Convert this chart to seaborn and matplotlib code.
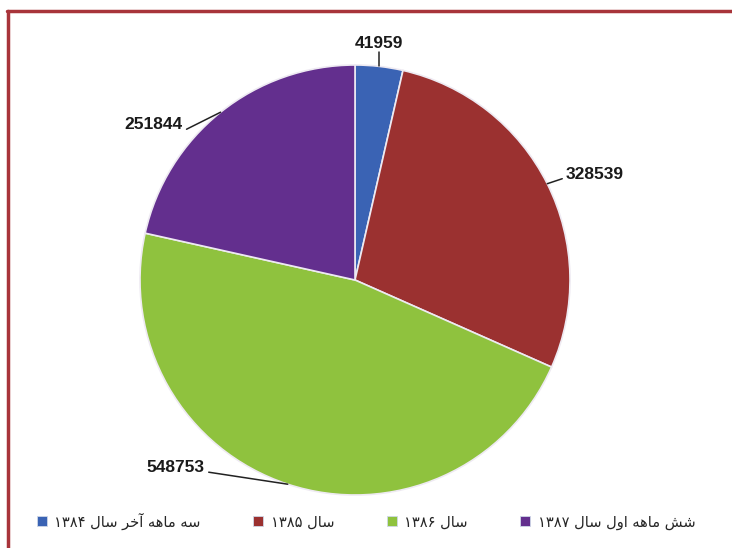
import numpy as np
import matplotlib
matplotlib.use("Agg")
import matplotlib.pyplot as plt
import seaborn as sns
from matplotlib.patches import Patch
from matplotlib.lines import Line2D

# ---- data ----
categories = ["سه ماهه آخر سال ۱۳۸۴", "سال ۱۳۸۵", "سال ۱۳۸۶", "شش ماهه اول سال ۱۳۸۷"]
values = [41959, 328539, 548753, 251844]
value_labels = ["41959", "328539", "548753", "251844"]
colors = ["#3A63B4", "#9B3130", "#8FC23E", "#632F8E"]

# ---- simple Arabic-script shaping for display (matplotlib has no bidi) ----
FORMS = {
    '\u0627': ('\uFE8D', '\uFE8E', None, None),
    '\u0622': ('\uFE81', '\uFE82', None, None),
    '\u0631': ('\uFEAD', '\uFEAE', None, None),
    '\u0648': ('\uFEED', '\uFEEE', None, None),
    '\u0633': ('\uFEB1', '\uFEB2', '\uFEB3', '\uFEB4'),
    '\u0634': ('\uFEB5', '\uFEB6', '\uFEB7', '\uFEB8'),
    '\u062E': ('\uFEA5', '\uFEA6', '\uFEA7', '\uFEA8'),
    '\u0644': ('\uFEDD', '\uFEDE', '\uFEDF', '\uFEE0'),
    '\u0645': ('\uFEE1', '\uFEE2', '\uFEE3', '\uFEE4'),
    '\u0647': ('\uFEE9', '\uFEEA', '\uFEEB', '\uFEEC'),
}


def dual(c):
    return c in FORMS and FORMS[c][2] is not None


def shape(s):
    out = []
    for i, c in enumerate(s):
        if c not in FORMS:
            out.append(c)
            continue
        prev = s[i - 1] if i > 0 else ''
        nxt = s[i + 1] if i + 1 < len(s) else ''
        jp = dual(prev)
        jn = dual(c) and nxt in FORMS
        iso, fin, ini, med = FORMS[c]
        if jp and jn:
            out.append(med)
        elif jp:
            out.append(fin)
        elif jn:
            out.append(ini)
        else:
            out.append(iso)
    rev = out[::-1]
    res, run = [], []
    for ch in rev:
        if ch.isdigit():
            run.append(ch)
        else:
            if run:
                res.extend(run[::-1]); run = []
            res.append(ch)
    if run:
        res.extend(run[::-1])
    return ''.join(res)


sns.set_style("white")
plt.rcParams['font.family'] = ['DejaVu Sans']

W, H = 732, 548
fig = plt.figure(figsize=(W / 100, H / 100), dpi=100)
ax = fig.add_axes([0, 0, 1, 1])

cx, cy, R = 355, H - 280, 215
wedges, _ = ax.pie(values, colors=colors, startangle=90, counterclock=False,
                   center=(cx, cy), radius=R, frame=True,
                   wedgeprops=dict(edgecolor='#eeeaf2', linewidth=1.2))
ax.set_xlim(0, W)
ax.set_ylim(0, H)
ax.set_aspect('equal')
ax.axis('off')

# leader-line end offsets (pixels, y up) from wedge midpoints on the rim
offsets = [(0, 14), (15, 5), (-79, 12), (-34, -17)]
has = ['center', 'left', 'right', 'right']
lab_font = dict(fontsize=12.5, fontweight='bold', color='#1a1a1a',
                family=['Liberation Sans', 'DejaVu Sans'])
for w, lab, (dx, dy), ha in zip(wedges, value_labels, offsets, has):
    ang = np.deg2rad((w.theta1 + w.theta2) / 2)
    x0 = cx + R * np.cos(ang)
    y0 = cy + R * np.sin(ang)
    x1, y1 = x0 + dx, y0 + dy
    ax.plot([x0, x1], [y0, y1], color='#222222', lw=1.1, solid_capstyle='round')
    if ha == 'center':
        ax.text(x1, y1 + 1, lab, ha='center', va='bottom', **lab_font)
    elif ha == 'left':
        ax.text(x1 + 3, y1 + 4, lab, ha='left', va='center', **lab_font)
    else:
        ax.text(x1 - 4, y1 + 5, lab, ha='right', va='center', **lab_font)

# legend
handles = [Patch(facecolor=c, edgecolor='#cfd8e8', linewidth=0.6) for c in colors]
leg = fig.legend(handles, [shape(c) for c in categories], loc='center',
                 bbox_to_anchor=(366 / W, (H - 521) / H), ncol=4, frameon=False,
                 handlelength=0.7, handleheight=0.7, handletextpad=0.5,
                 columnspacing=3.6, fontsize=10.5)

# dark red frame (top and left edges visible)
frame_c = '#A8343A'
fig.add_artist(Line2D([7 / W, 1], [(H - 11) / H, (H - 11) / H], transform=fig.transFigure,
                      color=frame_c, lw=2.5))
fig.add_artist(Line2D([8 / W, 8 / W], [0, (H - 11) / H], transform=fig.transFigure,
                      color=frame_c, lw=2.5))

fig.savefig('out.png', dpi=100, facecolor='white')
